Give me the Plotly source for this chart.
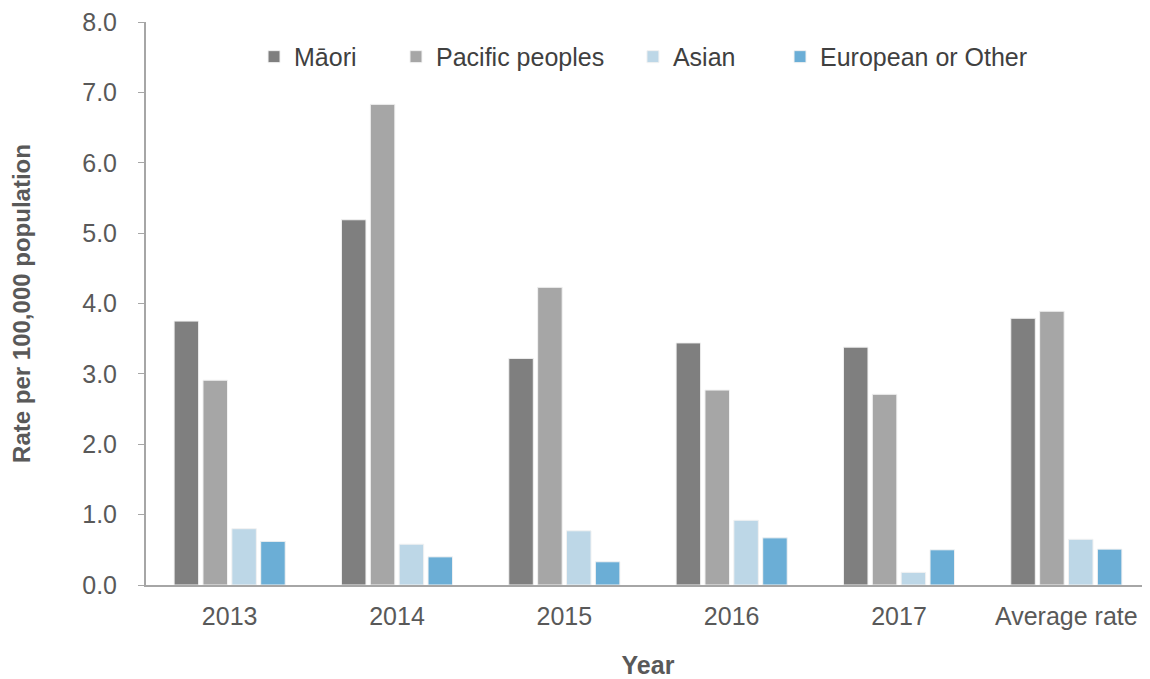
import plotly.graph_objects as go

categories = ["2013", "2014", "2015", "2016", "2017", "Average rate"]
maori = [3.75, 5.19, 3.22, 3.44, 3.38, 3.79]
pacific = [2.91, 6.83, 4.23, 2.77, 2.71, 3.89]
asian = [0.80, 0.58, 0.77, 0.92, 0.18, 0.65]
european = [0.62, 0.40, 0.33, 0.67, 0.50, 0.51]

series = [
    ("Māori", maori, "#7f7f7f"),
    ("Pacific peoples", pacific, "#a6a6a6"),
    ("Asian", asian, "#bdd7e7"),
    ("European or Other", european, "#6baed6"),
]
# one legend per series so the entries can be spaced like the original
legend_x = [0.1076, 0.249, 0.485, 0.6315]

font = "Liberation Sans, Arial, sans-serif"
fig = go.Figure()
legends = {}
for i, (name, vals, color) in enumerate(series):
    key = "legend" if i == 0 else f"legend{i + 1}"
    fig.add_trace(go.Bar(
        x=categories, y=vals, name=name, legend=key, showlegend=True,
        marker=dict(color=color, line=dict(color="#f2f2f2", width=1)),
    ))
    legends[key] = dict(orientation="h", x=legend_x[i], y=0.938,
                        xanchor="left", yanchor="middle", itemwidth=30,
                        font=dict(size=25, color="#404040"),
                        bgcolor="rgba(0,0,0,0)")

# page body has an 8px margin, so size and margins are shifted by 8px
fig.update_layout(
    width=1142, height=671, showlegend=True,
    barmode="group", bargap=0.31, bargroupgap=0.15,
    plot_bgcolor="white", paper_bgcolor="white",
    font=dict(family=font, size=25, color="#595959"),
    margin=dict(l=138, r=0, t=14, b=94),
    xaxis=dict(showline=True, linecolor="#a6a6a6", linewidth=2, ticks="",
               ticklabelstandoff=8,
               title=dict(text="<b>Year</b>", font=dict(size=25, color="#595959"),
                          standoff=29)),
    yaxis=dict(range=[0, 8], dtick=1, tickformat=".1f", showgrid=False,
               showline=True, linecolor="#a6a6a6", linewidth=2,
               ticks="outside", ticklen=6, tickcolor="#a6a6a6",
               ticklabelstandoff=16, ticklabeloverflow="allow",
               title=dict(text="<b>Rate per 100,000 population</b>",
                          font=dict(size=24, color="#595959"), standoff=45)),
    **legends,
)

fig.write_html("out.html")
